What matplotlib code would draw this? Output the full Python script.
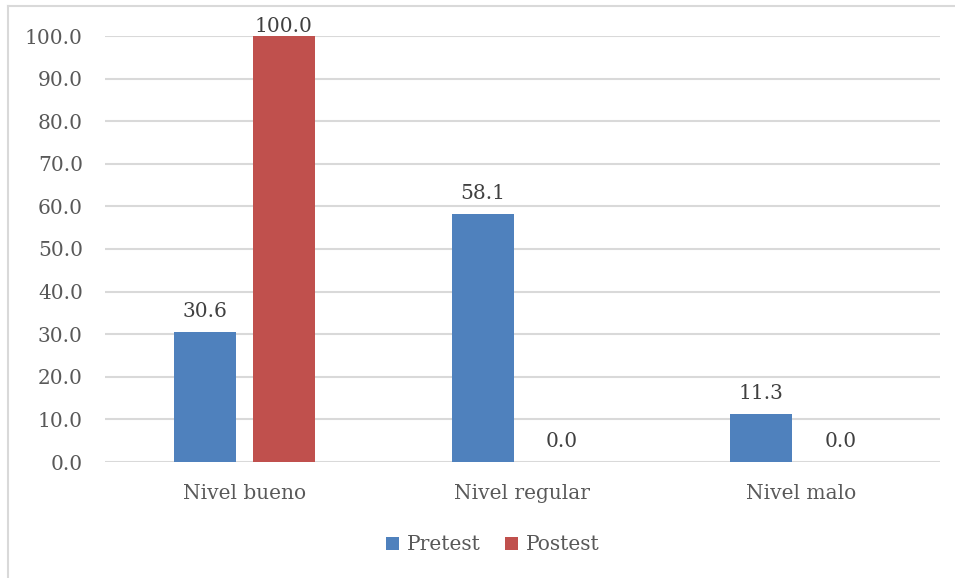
import matplotlib
matplotlib.use('Agg')
import matplotlib.pyplot as plt
from matplotlib.lines import Line2D
import numpy as np

plt.rcParams.update({
    'font.family': ['DejaVu Serif'],
    'font.size': 14.5,
})

CATEGORIES = ['Nivel bueno', 'Nivel regular', 'Nivel malo']
PRETEST = [30.6, 58.1, 11.3]
POSTEST = [100.0, 0.0, 0.0]
SERIES = ['Pretest', 'Postest']

BLUE = '#4F81BD'
RED = '#C0504D'
GRID = '#D9D9D9'
TICK = '#595959'
LABEL = '#404040'
FS = 14.5

W, H = 955, 578
fig = plt.figure(figsize=(W / 100, H / 100), dpi=100)
ax = fig.add_axes([105 / W, 1 - 462 / H, 835 / W, 426 / H])

x = np.arange(len(CATEGORIES))
w = 0.223
off = 0.142
b1 = ax.bar(x - off, PRETEST, w, color=BLUE, label=SERIES[0], zorder=2)
b2 = ax.bar(x + off, POSTEST, w, color=RED, label=SERIES[1], zorder=2)

YMAX = 100
for bars, vals in ((b1, PRETEST), (b2, POSTEST)):
    for rect, v in zip(bars, vals):
        # labels at the top of the axis get pushed down to stay in the frame
        dy = 0 if v >= YMAX else 8
        ax.annotate(f'{v:.1f}', (rect.get_x() + rect.get_width() / 2, v),
                    xytext=(0, dy), textcoords='offset points',
                    ha='center', va='bottom', fontsize=FS, color=LABEL)

ax.set_xlim(-0.5, len(CATEGORIES) - 0.5)
ax.set_ylim(0, YMAX)
ticks = np.arange(0, YMAX + 1, 10)
ax.set_yticks(ticks)
ax.set_yticklabels([f'{t:.1f}' for t in ticks])
ax.set_xticks(x)
ax.set_xticklabels(CATEGORIES)
ax.tick_params(axis='both', length=0, colors=TICK, labelsize=FS)
ax.tick_params(axis='x', pad=16)
ax.tick_params(axis='y', pad=16)
ax.grid(axis='y', color=GRID, linewidth=1.5, zorder=0)
for s in ax.spines.values():
    s.set_visible(False)

leg = fig.legend(handles=[b1, b2], labels=SERIES, loc='center',
                 bbox_to_anchor=(493 / W, 1 - 545 / H), ncol=2, frameon=False,
                 handlelength=0.65, handleheight=0.65, handletextpad=0.4,
                 columnspacing=1.2, fontsize=FS)
for t in leg.get_texts():
    t.set_color(TICK)

# chart frame (top and left edges)
fig.add_artist(Line2D([8 / W, 1], [1 - 6 / H, 1 - 6 / H], color=GRID, lw=1.5,
                      transform=fig.transFigure))
fig.add_artist(Line2D([8 / W, 8 / W], [0, 1 - 6 / H], color=GRID, lw=1.5,
                      transform=fig.transFigure))

fig.savefig('out.png', dpi=100, facecolor='white')
